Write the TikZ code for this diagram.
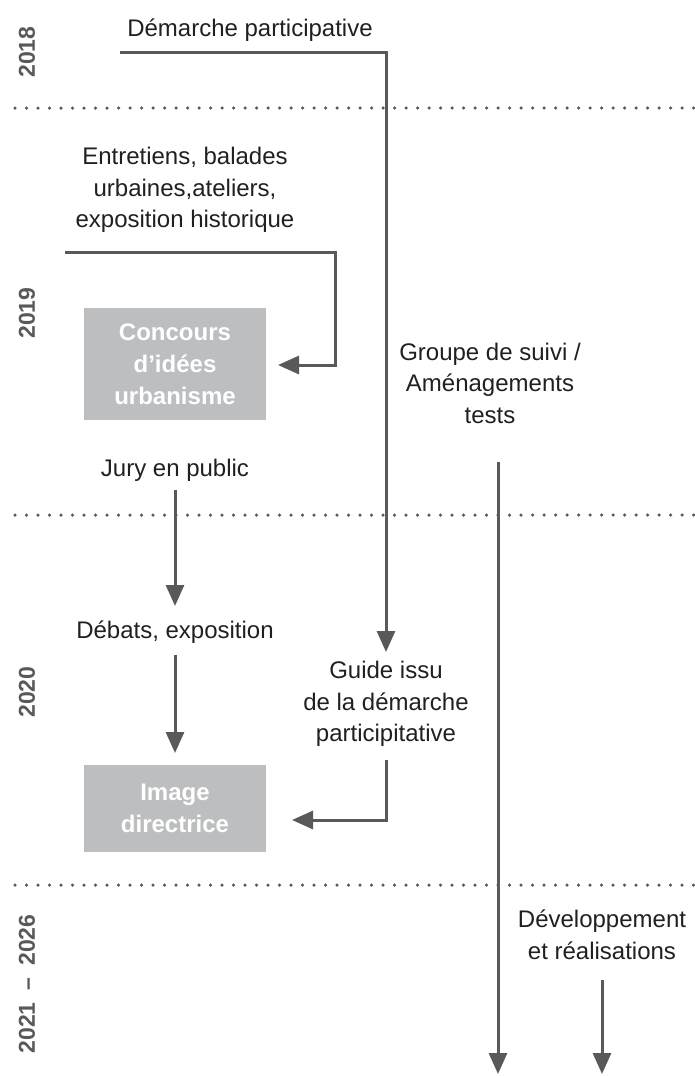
\documentclass[tikz,border=0pt]{standalone}
\usepackage{fontspec}
\setmainfont{Liberation Sans}
\usetikzlibrary{arrows.meta}
\definecolor{ln}{HTML}{58595B}
\definecolor{bx}{HTML}{BCBEC0}
\definecolor{tx}{HTML}{231F20}
\begin{document}
\begin{tikzpicture}[x=1pt,y=-1pt,
  lbl/.style={text=tx,align=center,inner sep=0pt,font=\fontsize{24}{31.5}\selectfont},
  boxnode/.style={fill=bx,text=white,align=center,minimum width=182pt,inner sep=0pt,font=\bfseries\fontsize{24}{32}\selectfont},
  yr/.style={text=ln,rotate=90,inner sep=0pt,font=\bfseries\fontsize{23}{27}\selectfont},
  conn/.style={draw=ln,line width=3pt},
  arr/.style={conn,-{Triangle[length=21pt,width=18pt]}},
  dots/.style={draw=ln,line width=3.5pt,line cap=round,dash pattern=on 0pt off 11.5pt}]
\useasboundingbox (0,0) rectangle (694,1076);
% period separators
\coordinate (s1a) at (15,108); \coordinate (s1b) at (694,108);
\coordinate (s2a) at (15,515); \coordinate (s2b) at (694,515);
\coordinate (s3a) at (15,885); \coordinate (s3b) at (694,885);
\draw[dots] (s1a) -- (s1b);
\draw[dots] (s2a) -- (s2b);
\draw[dots] (s3a) -- (s3b);
% years
\node[yr] (y18) at (27,52) {2018};
\node[yr] (y19) at (27,313) {2019};
\node[yr] (y20) at (27,692) {2020};
\node[yr] (y21) at (27,984) {2021\hspace{12pt}–\hspace{12pt}2026};
% labels
\node[lbl] (dem) at (250,30) {Démarche participative};
\node[lbl] (ent) at (185,190) {Entretiens, balades\\urbaines,ateliers,\\exposition historique};
\node[boxnode,minimum height=112pt] (conc) at (175,364) {Concours\\d’idées\\urbanisme};
\node[lbl] (grp) at (490,383) {Groupe de suivi /\\Aménagements\\tests};
\node[lbl] (jury) at (175,470) {Jury en public};
\node[lbl] (deb) at (175,632) {Débats, exposition};
\node[lbl] (guide) at (386,704) {Guide issu\\de la démarche\\participitative};
\node[boxnode,minimum height=87pt] (img) at (175,808) {Image\\directrice};
\node[lbl] (dev) at (602,935) {Développement\\et réalisations};
% connector points
\coordinate (d0) at (120,52);
\coordinate (d1) at (386,652);
\coordinate (e0) at (65,252);
\coordinate (e1) at (335,365);
\coordinate (e2) at (278,365);
\coordinate (g0) at (386,760);
\coordinate (g1) at (292,820);
\coordinate (t0) at (498,462);
\coordinate (t1) at (498,1074);
\coordinate (j0) at (175,490);
\coordinate (j1) at (175,606);
\coordinate (b0) at (175,655);
\coordinate (b1) at (175,753);
\coordinate (v0) at (602,980);
\coordinate (v1) at (602,1074);
% connectors
\draw[arr] (d0) -| (d1);
\draw[arr] (e0) -| (e1) -- (e2);
\draw[arr] (g0) |- (g1);
\draw[arr] (t0) -- (t1);
\draw[arr] (j0) -- (j1);
\draw[arr] (b0) -- (b1);
\draw[arr] (v0) -- (v1);
\end{tikzpicture}
\end{document}
